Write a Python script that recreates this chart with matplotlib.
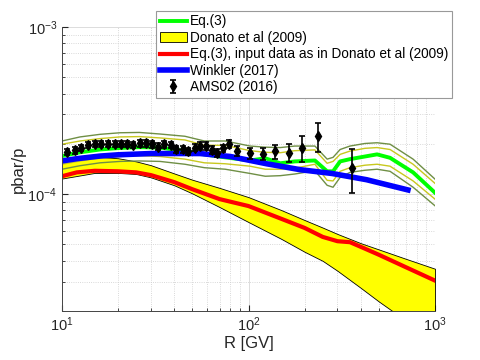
import matplotlib
matplotlib.use('Agg')
import matplotlib.pyplot as plt
from matplotlib.ticker import NullFormatter

plt.rcParams['font.family'] = ['Liberation Sans', 'DejaVu Sans']

# Eq.(3) : courbe centrale + bandes (valeurs en unités de 1e-4)
r_eq = [10, 12.5, 16, 20.5, 26, 33.5, 45.6, 58, 75, 102, 123, 148, 177, 227,
        264, 284, 310, 350, 421, 489, 574, 763, 1000]
eq_outer_hi = [2.08, 2.20, 2.28, 2.33, 2.34, 2.29, 2.22, 2.08, 2.08, 1.94, 1.91, 1.90,
               1.94, 1.94, 1.62, 1.66, 1.85, 1.94, 2.01, 2.03, 1.99, 1.62, 1.23]
eq_inner_hi = [1.99, 2.08, 2.15, 2.20, 2.21, 2.17, 2.11, 1.96, 1.96, 1.82, 1.78, 1.77,
               1.82, 1.84, 1.53, 1.57, 1.73, 1.81, 1.88, 1.90, 1.85, 1.51, 1.16]
eq_mid = [1.69, 1.78, 1.85, 1.89, 1.91, 1.90, 1.81, 1.73, 1.66, 1.59, 1.64, 1.53,
          1.57, 1.59, 1.37, 1.37, 1.57, 1.62, 1.68, 1.73, 1.65, 1.35, 1.02]
eq_inner_lo = [1.51, 1.58, 1.65, 1.68, 1.70, 1.68, 1.62, 1.54, 1.52, 1.47, 1.41, 1.41,
               1.43, 1.51, 1.21, 1.20, 1.37, 1.44, 1.49, 1.51, 1.47, 1.20, 0.934]
eq_outer_lo = [1.41, 1.48, 1.54, 1.57, 1.58, 1.57, 1.51, 1.44, 1.41, 1.33, 1.28, 1.29,
               1.32, 1.38, 1.13, 1.10, 1.26, 1.35, 1.39, 1.41, 1.37, 1.10, 0.852]

# Donato et al (2009)
r_don = [10, 15, 20, 25, 30, 40, 50, 70, 100, 150, 200, 250, 300, 400, 500, 700, 1000]
don_hi = [1.61, 1.68, 1.64, 1.57, 1.49, 1.33, 1.22, 1.09, 0.960, 0.803, 0.700, 0.631,
          0.578, 0.509, 0.467, 0.410, 0.358]
don_lo = [1.24, 1.34, 1.34, 1.32, 1.26, 1.13, 1.01, 0.837, 0.681, 0.540, 0.452, 0.399,
          0.348, 0.275, 0.228, 0.175, 0.133]

# Eq.(3) avec les données de Donato
r_red = [10, 12, 15, 20, 25, 30, 40, 50, 70, 100, 150, 200, 250, 300, 350, 400, 500, 700, 1000]
red_v = [1.28, 1.35, 1.38, 1.37, 1.35, 1.30, 1.18, 1.07, 0.934, 0.849, 0.712, 0.628,
         0.555, 0.523, 0.516, 0.484, 0.434, 0.365, 0.304]

# Winkler (2017)
r_win = [10, 12, 16, 20, 30, 55, 80, 125, 190, 280, 430, 716]
win_v = [1.58, 1.63, 1.69, 1.72, 1.75, 1.75, 1.68, 1.52, 1.40, 1.33, 1.22, 1.06]

# AMS02 (2016)
ams_r = [10.7, 11.7, 12.7, 13.8, 15.0, 16.2, 17.6, 19.2, 20.8, 22.3, 24.1, 26.2,
         28.2, 30.4, 32.9, 35.4, 38.3, 41.1, 44.4, 47.6, 51.4, 55.0, 59.0, 63.5,
         68.0, 73.3, 78.8, 87.3, 102, 119, 138, 164, 194, 237, 357]
ams_v = [1.79, 1.83, 1.88, 1.98, 1.99, 2.00, 2.00, 2.00, 2.00, 1.99, 1.97, 2.01,
         2.01, 1.99, 1.92, 1.99, 1.97, 1.85, 1.85, 1.81, 1.90, 1.94, 1.94, 1.83,
         1.77, 1.88, 2.00, 1.82, 1.76, 1.75, 1.80, 1.77, 1.90, 2.22, 1.43]
ams_err = [0.08, 0.08, 0.08, 0.08, 0.08, 0.08, 0.08, 0.08, 0.08, 0.08,
           0.09, 0.09, 0.09, 0.09, 0.09, 0.09, 0.09, 0.09, 0.09, 0.09,
           0.10, 0.10, 0.10, 0.10, 0.10, 0.10,
           0.12, 0.13, 0.13, 0.15, 0.18, 0.22, 0.34, 0.43, 0.42]

u = 1e-4
def sc(v):
    return [x * u for x in v]

fig = plt.figure(figsize=(4.8, 3.6), dpi=100)
ax = fig.add_axes([62/480, 49/360, 373/480, 284/360])

olive = '#6f8f45'
yel = '#c8c81e'
ax.plot(r_eq, sc(eq_outer_hi), color=olive, lw=1.0)
ax.plot(r_eq, sc(eq_inner_hi), color=yel, lw=1.0)
ax.plot(r_eq, sc(eq_inner_lo), color=yel, lw=1.0)
ax.plot(r_eq, sc(eq_outer_lo), color=olive, lw=1.0)
h_eq, = ax.plot(r_eq, sc(eq_mid), color='#00ff00', lw=2.8)

h_don = ax.fill_between(r_don, sc(don_lo), sc(don_hi), facecolor='#ffff00',
                        edgecolor='k', lw=0.6)
h_red, = ax.plot(r_red, sc(red_v), color='#ff0000', lw=3)
h_win, = ax.plot(r_win, sc(win_v), color='#0000ff', lw=4)
h_ams = ax.errorbar(ams_r, sc(ams_v), yerr=sc(ams_err), fmt='d', color='k',
                    ms=5, lw=1.2, capsize=2.5, capthick=1.2)

ax.set_xscale('log')
ax.set_yscale('log')
ax.set_xlim(10, 1000)
ax.set_ylim(2e-5, 1e-3)
ax.yaxis.set_minor_formatter(NullFormatter())
ax.xaxis.set_minor_formatter(NullFormatter())

ax.set_axisbelow(True)
ax.grid(True, which='major', color='#dcdcdc', lw=0.7, ls='-')
ax.grid(True, which='minor', color='#cccccc', lw=0.6, ls=':')
for s in ['top', 'right']:
    ax.spines[s].set_visible(False)
for s in ['left', 'bottom']:
    ax.spines[s].set_color('#444444')
    ax.spines[s].set_linewidth(0.7)
ax.tick_params(which='both', direction='in', colors='#262626', labelsize=10.5)
ax.tick_params(which='major', length=4)
ax.tick_params(which='minor', length=2)

ax.set_xlabel('R [GV]', fontsize=12, color='#262626', labelpad=1)
ax.set_ylabel('pbar/p', fontsize=12, color='#262626', labelpad=1)

leg = ax.legend([h_eq, h_don, h_red, h_win, h_ams],
                ['Eq.(3)', 'Donato et al (2009)',
                 'Eq.(3), input data as in Donato et al (2009)',
                 'Winkler (2017)', 'AMS02 (2016)'],
                loc='upper right', bbox_to_anchor=(452/480, 1 - 11/360),
                bbox_transform=fig.transFigure, borderaxespad=0, fontsize=9.8,
                handlelength=2.0, handletextpad=0.25, labelspacing=0.18,
                borderpad=0.25, fancybox=False, framealpha=1, edgecolor='#999999')
leg.get_frame().set_linewidth(0.8)

fig.savefig('out.png', dpi=100)
